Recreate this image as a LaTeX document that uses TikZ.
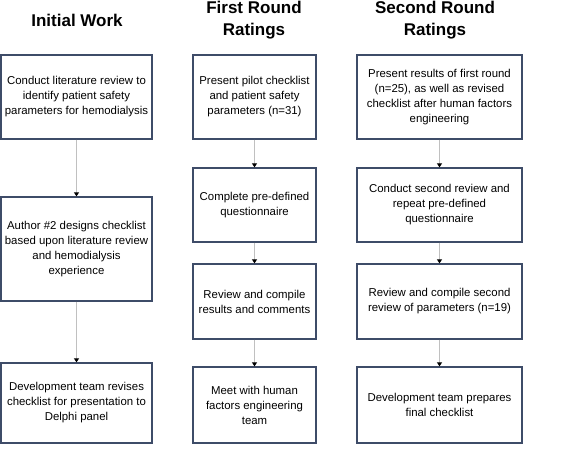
\documentclass[tikz,border=0pt]{standalone}
\usepackage{fontspec}
\setmainfont{Liberation Sans}
\usetikzlibrary{arrows.meta}
\definecolor{boxline}{RGB}{62,76,104}
\definecolor{linkgray}{RGB}{192,192,192}

\begin{document}
\begin{tikzpicture}[x=1pt,y=-1pt]
                        \tikzstyle{head}=[font=\fontsize{17}{22.5}\selectfont\bfseries, align=center]
                        \tikzstyle{stage}=[draw=boxline, line width=1.3pt, align=center, inner sep=2pt,
                                           font=\fontsize{11.4}{15}\selectfont]
                        \tikzstyle{link}=[draw=linkgray, line width=1.1pt, -{Triangle[color=black,width=5pt,length=4pt]}]
                        \useasboundingbox (0,0) rectangle (567,452);
                        % headings
                        \node[head] (h1) at (77,20) {Initial Work};
                        \node[head] (h2) at (254,20) {First Round\\Ratings};
                        \node[head] (h3) at (435,20) {Second Round\\Ratings};
                        % initial work
                        \node[stage, minimum width=151, minimum height=84] (a1) at (76.5,97)
                            {Conduct literature review to\\identify patient safety\\parameters for hemodialysis};
                        \node[stage, minimum width=151, minimum height=104] (a2) at (76.5,249)
                            {Author \#2 designs checklist\\based upon literature review\\and hemodialysis\\experience};
                        \node[stage, minimum width=151, minimum height=80] (a3) at (76.5,403)
                            {Development team revises\\checklist for presentation to\\Delphi panel};
                        % first round
                        \node[stage, minimum width=123, minimum height=84] (b1) at (254.5,97)
                            {Present pilot checklist\\and patient safety\\parameters (n=31)};
                        \node[stage, minimum width=123, minimum height=74] (b2) at (254.5,205)
                            {Complete pre-defined\\questionnaire};
                        \node[stage, minimum width=123, minimum height=75] (b3) at (254.5,301.5)
                            {Review and compile\\results and comments};
                        \node[stage, minimum width=123, minimum height=76] (b4) at (254.5,405)
                            {Meet with human\\factors engineering\\team};
                        % second round
                        \node[stage, minimum width=165, minimum height=84] (c1) at (439.5,97)
                            {Present results of first round\\(n=25), as well as revised\\checklist after human factors\\engineering};
                        \node[stage, minimum width=165, minimum height=74] (c2) at (439.5,205)
                            {Conduct second review and\\repeat pre-defined\\questionnaire};
                        \node[stage, minimum width=165, minimum height=75] (c3) at (439.5,301.5)
                            {Review and compile second\\review of parameters (n=19)};
                        \node[stage, minimum width=165, minimum height=76] (c4) at (439.5,405)
                            {Development team prepares\\final checklist};
                        % connectors
                        \draw[link, line width=0.8pt] (a1) -- (a2);
                        \draw[link, line width=0.8pt] (a2) -- (a3);
                        \draw[link] (b1) -- (b2);
                        \draw[link] (b2) -- (b3);
                        \draw[link] (b3) -- (b4);
                        \draw[link] (c1) -- (c2);
                        \draw[link] (c2) -- (c3);
                        \draw[link] (c3) -- (c4);
                    \end{tikzpicture}
\end{document}
